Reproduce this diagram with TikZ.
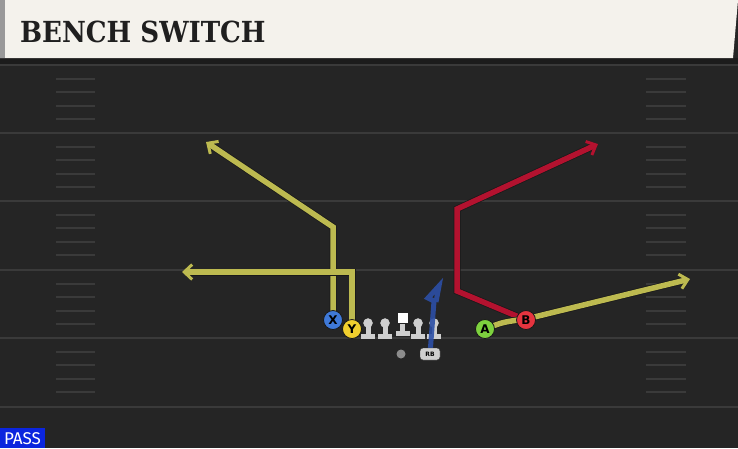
\documentclass[tikz,border=0pt]{standalone}
\usepackage{fontspec}
\usepackage{xcolor}
\usetikzlibrary{arrows.meta}
\newfontfamily\titlefont{DejaVu Serif Condensed}
\newfontfamily\tagfont{DejaVu Sans}
\newfontfamily\passfont{Fira Sans}
\definecolor{fieldbg}{HTML}{252525}
\definecolor{fieldtop}{HTML}{1C1C1C}
\definecolor{yardline}{HTML}{3A3A3A}
\definecolor{cream}{HTML}{F4F2EC}
\definecolor{routeyellow}{HTML}{BDBA50}
\definecolor{routered}{HTML}{B3122F}
\definecolor{routeblue}{HTML}{2C4FA6}
\definecolor{xblue}{HTML}{3F79D8}
\definecolor{yyellow}{HTML}{F1CF2E}
\definecolor{agreen}{HTML}{7DD13E}
\definecolor{bred}{HTML}{E5343F}
\definecolor{linegray}{HTML}{CFCFCF}
\definecolor{passblue}{HTML}{0B25DE}
\tikzset{
	route/.style={line width=5.5pt, line join=miter, -{Straight Barb[length=8pt,width=15pt,line width=3pt]},
		preaction={draw=black!90, line width=7pt}},
	player/.style={circle, draw=black!90, line width=0.8pt, minimum size=19pt, inner sep=0pt,
		font=\tagfont\bfseries\fontsize{12}{12}\selectfont},
	hashmark/.style={yardline, line width=2pt}
}
\begin{document}
\begin{tikzpicture}[x=1pt,y=-1pt]
		\useasboundingbox (0,0) rectangle (738,448);
		\fill[fieldbg] (0,0) rectangle (738,448);
		\fill[fieldtop] (0,58) rectangle (738,64);
		\foreach \y in {65,133,201,270,338,407}
			\draw[yardline, line width=2.5pt] (0,\y)--(738,\y);
		\foreach \y in {65,133,201,270,338}
			\foreach \k in {1,...,4} {
				\draw[hashmark] (56,\y+13.6*\k)--(95,\y+13.6*\k);
				\draw[hashmark] (646,\y+13.6*\k)--(686,\y+13.6*\k);
			}
		\fill[cream] (0,0)--(738,0)--(733,58)--(0,58)--cycle;
		\fill[black!40] (0,0) rectangle (5,58);
		\node[anchor=base west, inner sep=0pt, font=\titlefont\bfseries\fontsize{29}{29}\selectfont, text=black!88] (title) at (20,42) {BENCH SWITCH};
		\coordinate (x) at (333,320);
		\coordinate (y) at (352,329);
		\coordinate (a) at (485,329);
		\coordinate (b) at (526,320);
		\coordinate (rb) at (430,354);
		\draw[route, routeyellow] (x)--(333,227)--(206,142);
		\draw[route, routeyellow] (y)--(352,272)--(182,272);
		\draw[route, routered] (b)--(457,291)--(457,209)--(598,144);
		\draw[route, routeyellow] (a) .. controls (503,322) .. (526,319)--(690,279);
		\foreach \lx in {368,385,418,434} {
			\filldraw[linegray] (\lx,323) circle(4.5pt);
			\fill[linegray] (\lx-2.5,325) rectangle (\lx+2.5,335);
			\fill[linegray] (\lx-7,334) rectangle (\lx+7,339);
		}
		\fill[white] (397.5,313) rectangle (407.5,323);
		\fill[linegray] (400,324) rectangle (405,332);
		\fill[linegray] (395.5,331) rectangle (409.5,336);
		\draw[routeblue, line width=5pt, line join=miter, opacity=0.9] (rb)--(434,301)--(428,298)--(439,286)--(436,302);
		\fill[black!45] (401,354) circle(4.5pt);
		\node[draw=black!80, fill=linegray, rounded corners=3pt, minimum width=20pt, minimum height=12pt, inner sep=0pt, font=\tagfont\bfseries\fontsize{6}{6}\selectfont] (rbtag) at (rb) {RB};
		\node[player, fill=xblue] (px) at (x) {X};
		\node[player, fill=yyellow] (py) at (y) {Y};
		\node[player, fill=agreen] (pa) at (a) {A};
		\node[player, fill=bred] (pb) at (b) {B};
		\fill[passblue] (0,428) rectangle (45,448);
		\node[anchor=base, inner sep=0pt, text=white, font=\passfont\fontsize{17}{17}\selectfont] (pass) at (22.5,444.5) {PASS};
	\end{tikzpicture}
\end{document}
